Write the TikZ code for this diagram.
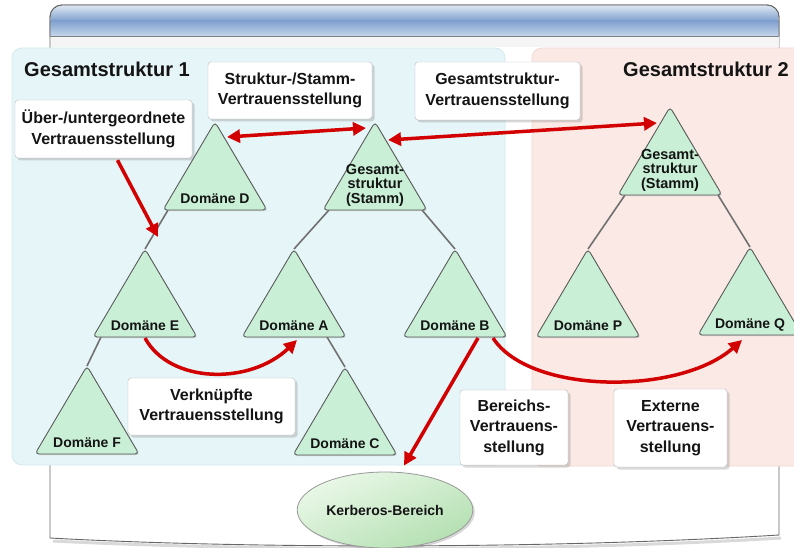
\documentclass[tikz,border=0pt]{standalone}
\usepackage{fontspec}
\setmainfont{Liberation Sans}
\usetikzlibrary{arrows.meta,calc,shadows,shapes.geometric}

\definecolor{leftbg}{HTML}{E6F5F7}
\definecolor{leftline}{HTML}{D3EAEE}
\definecolor{rightbg}{HTML}{FBE9E5}
\definecolor{rightline}{HTML}{F1D9D3}
\definecolor{trifill}{HTML}{C9F0D6}
\definecolor{triline}{HTML}{5A5A5A}
\definecolor{trunkgray}{HTML}{707070}
\definecolor{trustred}{HTML}{D20000}
\definecolor{ink}{HTML}{141414}
\definecolor{hdrtop}{HTML}{DCE6F3}
\definecolor{hdrmid}{HTML}{7E9FCC}
\definecolor{hdrbot}{HTML}{C6D6EB}
\definecolor{realmlight}{HTML}{EAF8E8}
\definecolor{realmdark}{HTML}{B4E0B2}

% corner and base points of a domain triangle (apex given)
\newcommand\domat[3]{%
  \coordinate (#1-t) at (#2,#3);
  \coordinate (#1-l) at ({#2-52},{#3+88});
  \coordinate (#1-r) at ({#2+52},{#3+88});
  \coordinate (#1-b) at (#2,{#3+88});
}
% the triangle itself and its caption
\newcommand\domtri[3]{%
  \draw[tri] (#1-t) -- (#1-r) -- (#1-l) -- cycle;
  \node[#2] (#1) at (#1-b) {#3};
}

\tikzset{
  every node/.style={text=ink},
  tri/.style={fill=trifill, draw=triline, line width=0.9pt, rounded corners=4pt,
    drop shadow={shadow xshift=1.2pt, shadow yshift=-1.2pt, opacity=0.3}},
  domlabel/.style={font=\fontsize{14}{15}\selectfont\bfseries, anchor=base, yshift=7pt, inner sep=0pt},
  rootlabel/.style={font=\fontsize{14.5}{14.5}\selectfont\bfseries, align=center, anchor=center, yshift=25pt, inner sep=0pt},
  trunk/.style={draw=trunkgray, line width=1.6pt},
  oneway/.style={draw=trustred, line width=3.5pt, -{Triangle[length=13pt,width=13pt]}},
  twoway/.style={draw=trustred, line width=3.5pt, {Triangle[length=13pt,width=13pt]}-{Triangle[length=13pt,width=13pt]}},
  labelbox/.style={draw=black!28, fill=white, rounded corners=3pt, align=center,
    font=\fontsize{16}{20.5}\selectfont\bfseries, inner sep=2pt,
    drop shadow={shadow xshift=2.5pt, shadow yshift=-2.5pt, opacity=0.3}},
  title/.style={font=\fontsize{20}{24}\selectfont\bfseries, inner sep=0pt, anchor=base west},
}

\begin{document}
\begin{tikzpicture}[x=1pt,y=-1pt]
\useasboundingbox (0,0) rectangle (794,548);

% backing card
\draw[black!15, line width=3pt] (53,541) .. controls (250,551) and (550,552) .. (781,538);
\draw[fill=white, draw=black!60, line width=0.9pt]
  (50,538) -- (50,17) arc (180:270:12) -- (767,5) arc (270:360:12) -- (779,535)
  .. controls (550,549) and (250,549) .. (50,538) -- cycle;
% blue header bar: light top, blue middle, light bottom
\shade[top color=hdrtop, bottom color=hdrmid]
  (50.5,21) -- (50.5,17) arc (180:270:11.5) -- (767,5.5) arc (270:360:11.5) -- (778.5,21) -- cycle;
\shade[top color=hdrmid, bottom color=hdrbot] (50.5,20.5) rectangle (778.5,36);
\fill[black!4] (50.5,36.5) rectangle (778.5,47);
\draw[black!60, line width=0.9pt] (50,36) -- (50,17) arc (180:270:12) -- (767,5) arc (270:360:12) -- (779,36);
\draw[black!50, line width=0.8pt] (50,36) -- (779,36);

% the two forests
\draw[fill=leftbg, draw=leftline, line width=0.8pt, rounded corners=10pt] (12,48) rectangle (505,465);
\draw[fill=rightbg, draw=rightline, line width=0.8pt, rounded corners=10pt] (532,48) rectangle (812,466);

\node[title] (g1) at (24,77) {Gesamtstruktur 1};
\node[title] (g2) at (623,77) {Gesamtstruktur 2};

% domain positions
\domat{D}{215}{122}
\domat{S1}{375}{122}
\domat{E}{145}{249}
\domat{A}{294}{249}
\domat{B}{455}{249}
\domat{F}{87}{366}
\domat{C}{345}{367}
\domat{S2}{670}{107}
\domat{P}{588}{249}
\domat{Q}{750}{247}

% tree edges
\draw[trunk] ($(D-l)+(5,0)$) -- (E-t);
\draw[trunk] ($(S1-l)+(6,0)$) -- (A-t);
\draw[trunk] ($(S1-r)+(-5,0)$) -- (B-t);
\draw[trunk] ($(E-l)+(8,0)$) -- (F-t);
\draw[trunk] ($(A-r)+(-19,0)$) -- (C-t);
\draw[trunk] ($(S2-l)+(7,0)$) -- (P-t);
\draw[trunk] ($(S2-r)+(-4,0)$) -- (Q-t);

% domains
\domtri{D}{domlabel}{Domäne D}
\domtri{S1}{rootlabel}{Gesamt-\\struktur\\(Stamm)}
\domtri{E}{domlabel}{Domäne E}
\domtri{A}{domlabel}{Domäne A}
\domtri{B}{domlabel}{Domäne B}
\domtri{F}{domlabel}{Domäne F}
\domtri{C}{domlabel}{Domäne C}
\domtri{S2}{rootlabel}{Gesamt-\\struktur\\(Stamm)}
\domtri{P}{domlabel}{Domäne P}
\domtri{Q}{domlabel}{Domäne Q}

% Kerberos realm
\node[ellipse, minimum width=136pt, minimum height=76pt, draw=black!40, line width=0.8pt,
      top color=realmlight, bottom color=realmdark, shading angle=25,
      drop shadow={shadow xshift=2pt, shadow yshift=-2pt, opacity=0.3},
      font=\fontsize{14}{16}\selectfont\bfseries] (K) at (385,510) {Kerberos-Bereich};

% captions
\node[labelbox, minimum width=164pt, minimum height=57pt] (sst) at (290,90.5) {Struktur-/Stamm-\\Vertrauensstellung};
\node[labelbox, minimum width=177pt, minimum height=58pt] (ue) at (103.5,129) {Über-/untergeordnete\\Vertrauensstellung};
\node[labelbox, minimum width=165pt, minimum height=58pt] (gsv) at (497.5,91) {Gesamtstruktur-\\Vertrauensstellung};
\node[labelbox, minimum width=167pt, minimum height=57pt] (vv) at (211.5,406.5) {Verknüpfte\\Vertrauensstellung};
\node[labelbox, minimum width=108pt, minimum height=75pt] (bv) at (514,427.5) {Bereichs-\\Vertrauens-\\stellung};
\node[labelbox, minimum width=113pt, minimum height=78pt] (ev) at (670.5,428) {Externe\\Vertrauens-\\stellung};

% trust relationships
\draw[twoway] ($(D-t)+(12,15)$) -- ($(S1-t)+(-9,6)$);
\draw[twoway] ($(S1-t)+(13,18)$) -- ($(S2-t)+(-13,16)$);
\draw[oneway] ($(ue.south)+(14,2)$) -- ($(E-t)+(13,-12)$);
\draw[oneway] ($(E-b)+(0,1)$) .. controls +(25,46) and +(-47,45) .. ($(A-b)+(3,3)$);
\draw[oneway] ($(B-b)+(38,1)$) .. controls +(37,57) and +(-62,55) .. ($(Q-b)+(-8,5)$);
\draw[oneway] ($(B-b)+(23,1)$) -- ($(K.north)+(19,-6)$);
\end{tikzpicture}
\end{document}
